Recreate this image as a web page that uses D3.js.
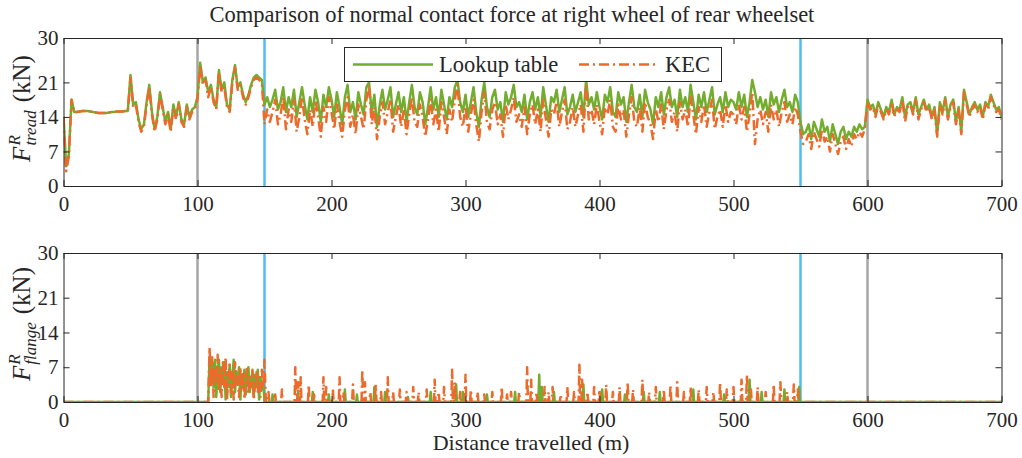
<!DOCTYPE html>
<html>
<head>
<meta charset="utf-8">
<script src="https://cdn.jsdelivr.net/npm/d3@7"></script>
<style>
  body { margin: 0; background: #fff; }
  text { font-family: "Liberation Serif", "Times New Roman", serif; fill: #262626; }
</style>
</head>
<body>
<svg id="chart" width="1022" height="458"></svg>
<script>
// tread force, sampled every 2 m from 0 to 700 m
const treadStep = 2;
const treadLookup = [
  14, 4, 6.5, 17.5, 15, 15, 15.1, 15.2, 15.2, 15.2, 15.1, 15, 14.9, 14.8, 14.8, 14.8, 14.8, 14.9, 15, 15, 15.1, 15.1, 15.1, 15.2, 15.2,
  22.5, 16.5, 17, 13.5, 11.5, 12.5, 17, 20.5, 15, 11.5, 14, 19, 16, 13, 15, 11.5, 16.5, 14, 17, 13.5, 12.5, 16.5, 14, 15.5, 16,
  18, 25, 21, 22, 19, 20.5, 17.5, 16, 23.5, 19.5, 21, 16.5, 15.5, 21.5, 24.5, 20, 21, 18.5, 17, 18.5, 20.5, 22, 22.5, 22, 21.5,
  16.5, 18, 16, 17.5, 19.5, 15.5, 17, 20, 15, 18, 16, 19.5, 14, 17, 20, 16.5, 13.5, 18, 15, 19.5, 17, 13, 18.5, 16, 20,
  17.5, 14, 19, 16, 12.5, 18, 20.5, 15, 17, 13.5, 19, 16.5, 14.5, 20, 21, 15, 18.5, 12, 16.5, 19.5, 15.5, 17.5, 20, 14, 16.5,
  19, 15, 18, 13, 17, 20.5, 16, 14.5, 19, 17, 12.5, 16, 20, 15.5, 18, 14, 19.5, 16.5, 13.5, 18, 16, 20, 21.5, 17, 15,
  18.5, 14, 17, 20, 15, 12, 17.5, 21, 16, 14, 18, 19.5, 15.5, 17, 13, 19, 16.5, 18, 20.5, 16, 17, 15, 18.5, 13.5, 17,
  19, 15.5, 18, 14, 20, 16.5, 13, 18, 17, 19.5, 15, 17.5, 20, 14.5, 16, 18.5, 15, 17, 19, 14, 21.5, 16.5, 18, 15.5, 19,
  16, 13.5, 18.5, 17, 20, 15, 14, 19, 16.5, 18, 13, 17, 20.5, 16, 15, 18.5, 14, 19.5, 17, 15.5, 12.5, 18, 16, 19, 14.5,
  18, 20, 16, 17.5, 14, 19.5, 16, 18, 15, 20.5, 17, 13.5, 18.5, 16, 19, 15, 17.5, 20, 14.5, 16.5, 18, 15, 19, 16, 17.5,
  17, 15.5, 19, 16, 18.5, 14, 17, 21.5, 19, 16, 18, 15.5, 17.5, 14, 19, 16.5, 18, 15, 17.5, 19.5, 16, 17, 15, 18.5, 17,
  13, 10.5, 11, 12.5, 9.5, 13, 11.5, 10, 13.5, 11, 12, 9, 12.5, 10.5, 8.5, 11, 12, 9.5, 11, 10, 12, 11, 12.5, 11.5, 12,
  17.5, 16, 16.5, 14.5, 17, 15.5, 14, 16, 15, 17.5, 14.5, 16, 15.5, 18, 14, 16.5, 17, 15, 18, 14.5, 16, 17.5, 15.5, 16.5, 14,
  16, 10.5, 17, 15, 18, 14, 16.5, 17.5, 13, 16, 11, 19.5, 17, 14.5, 16, 17, 15.5, 16.5, 14, 17, 16, 18.5, 17, 15.5, 16, 14
];
const treadKEC = [
  14, 3, 6, 17.5, 15, 15, 15.1, 15.2, 15.2, 15.2, 15.1, 15, 14.9, 14.8, 14.8, 14.8, 14.8, 14.9, 15, 15, 15.1, 15.1, 15.1, 15.2, 15.2,
  22, 16, 16.5, 13, 11, 12, 16.5, 20, 14.5, 11, 13.5, 18.5, 15.5, 12.5, 14.5, 11, 16, 13.5, 16.5, 13, 12, 16, 13.5, 15, 15.5,
  17.5, 24.5, 20.5, 21.5, 18, 20, 17, 15.5, 23, 19, 20, 16, 15, 21, 24, 19.5, 20.5, 18, 16.5, 18, 20, 21.5, 22, 21.5, 21,
  12.5, 15.5, 13, 15, 17.5, 12.5, 14.5, 18, 11.5, 15.5, 13, 17.5, 11, 14, 18, 13.5, 10.5, 15.5, 12, 17.5, 14, 10, 16, 13, 18,
  15, 11.5, 16.5, 13, 10, 15.5, 18, 12, 14.5, 10.5, 16.5, 14, 11.5, 17.5, 20.5, 12.5, 16, 9.5, 14, 17, 12.5, 15, 17.5, 11, 14,
  16.5, 12, 15.5, 10.5, 14.5, 18, 13, 12, 16.5, 14, 10, 13.5, 17.5, 12.5, 15.5, 11, 17, 14, 10.5, 15.5, 13, 17.5, 20.5, 14, 12,
  16, 11, 14.5, 17.5, 12.5, 9, 15, 19, 13, 11.5, 15.5, 17, 12.5, 14.5, 10, 16.5, 13.5, 15.5, 18, 13, 14.5, 12, 16, 10.5, 14.5,
  16.5, 12.5, 15.5, 11, 17.5, 13.5, 10, 15.5, 14.5, 17, 12, 15, 17.5, 11.5, 13, 16, 12, 14.5, 16.5, 11, 20.5, 13.5, 15.5, 12.5, 16.5,
  13, 10.5, 16, 14.5, 17.5, 12, 11, 16.5, 13.5, 15.5, 10, 14.5, 18, 13, 12, 16, 11, 17, 14, 12.5, 9.5, 15.5, 13, 16.5, 11.5,
  15.5, 17.5, 13, 15, 11, 17, 13.5, 15.5, 12, 18, 14.5, 10.5, 16, 13, 16.5, 12, 15, 17.5, 11.5, 14, 15.5, 12, 16.5, 13, 15,
  14.5, 12.5, 16.5, 13.5, 16, 11, 14.5, 19, 8.5, 13.5, 15.5, 12.5, 15, 11, 16.5, 13.5, 15.5, 12, 15, 17, 13, 14.5, 12.5, 16, 14.5,
  11, 8.5, 9, 10.5, 7.5, 11, 9.5, 8, 11.5, 9, 10, 7, 10.5, 8.5, 6.5, 9, 10, 7.5, 9.5, 8, 10.5, 9.5, 11, 10, 11.5,
  17, 15.5, 16, 14, 16.5, 15, 13.5, 15.5, 14.5, 17, 14, 15.5, 15, 17.5, 13, 16, 16.5, 14.5, 17.5, 13.5, 15.5, 17, 15, 16, 13.5,
  15.5, 10, 16.5, 14.5, 17.5, 13.5, 16, 17, 12.5, 15.5, 10.5, 19, 16.5, 14, 15.5, 16.5, 15, 16, 13.5, 16.5, 15.5, 18, 16.5, 15, 15.5, 13.5
];

// flange force: dense part every 1 m from 108 m to 151 m, then isolated spikes [m, kN]
const flangeDenseStart = 108;
const flangeLookupDense = [
  0, 9, 5, 8, 3, 8.5, 1, 6, 8.5, 2, 7, 4, 8, 0.5, 6, 3, 7.5, 1, 5, 8.5,
  2, 6, 4, 7, 0.5, 5.5, 3, 6.5, 1.5, 5, 7, 2, 4.5, 6, 1, 5.5, 3, 6.5, 0.5, 5, 2.5, 4, 0, 0
];
const flangeKECDense = [
  0, 11, 3, 9, 1, 7, 4, 9.5, 2, 6.5, 1, 8, 3, 9, 0.5, 5, 7.5, 2, 6, 0.5,
  8, 3.5, 5.5, 1, 7, 2.5, 6, 0.5, 4.5, 7, 1.5, 5, 3, 6.5, 0.5, 4, 6, 2, 5, 1, 6.5, 3, 8.5, 0
];
const flangeLookupSpikes = [
  [156, 1.5], [175, 2], [186, 2], [198, 1.5], [210, 2.5], [219, 1.5], [232, 3], [240, 2], [257, 1],
  [274, 2], [293, 3.5], [298, 2], [316, 1.5], [337, 2], [355, 5.5], [357, 3], [366, 2], [388, 3.5],
  [402, 2.5], [419, 1.5], [433, 2], [445, 2], [470, 2.5], [493, 1.5], [512, 4.5], [521, 2], [538, 2.5], [549, 3]
];
const flangeKECSpikes = [
  [153, 2], [158, 1.5], [163, 2.5], [173, 7], [175, 4], [177, 5], [183, 3.5], [187, 1.5], [194, 5], [196, 3],
  [201, 2.5], [206, 5], [209, 2], [216, 3.5], [223, 6.5], [225, 4], [229, 2], [233, 3.5], [237, 2], [242, 5],
  [246, 2], [251, 2.5], [256, 2], [261, 3], [265, 2], [271, 2.5], [277, 4.5], [280, 2], [284, 3], [290, 6.5],
  [292, 4], [296, 2], [300, 5.5], [304, 2.5], [309, 2], [314, 1.5], [320, 2], [327, 3], [331, 1.5], [334, 2],
  [340, 2], [346, 7], [349, 4.5], [353, 2], [359, 3], [362, 2], [365, 3], [371, 1.5], [376, 3], [381, 2],
  [385, 7.5], [387, 4.5], [391, 2], [396, 3], [400, 2.5], [405, 3.5], [410, 2], [415, 3], [421, 4], [425, 2.5],
  [432, 4.5], [437, 2], [442, 3], [448, 2.5], [453, 3.5], [458, 4], [463, 2], [468, 3], [474, 2.5], [480, 3],
  [485, 2], [490, 4], [495, 2.5], [500, 3], [506, 4.5], [510, 5.5], [513, 2.5], [518, 3], [524, 2], [530, 3.5],
  [535, 4], [540, 2], [545, 3.5], [548, 2.5]
];

const markersGray = [100, 600];
const markersBlue = [150, 550];
const xTicks = [0, 100, 200, 300, 400, 500, 600, 700];
const yTicks = [0, 7, 14, 21, 30];
const seriesNames = ['Lookup table', 'KEC'];

const green = '#72ad2e';
const orange = '#ec6a2b';
const axisColor = '#262626';
const dash = '10,4,2,4';

const svg = d3.select('#chart');
const x = d3.scaleLinear().domain([0, 700]).range([63.5, 1001.5]);

function treadSeries(vals) {
  return vals.map((v, i) => [i * treadStep, v]);
}
function flangeSeries(dense, spikes) {
  let pts = [[0, 0]];
  dense.forEach((v, i) => pts.push([flangeDenseStart + i, v]));
  spikes.forEach(([m, v]) => {
    pts.push([m - 0.6, 0], [m, v], [m + 0.6, 0]);
  });
  pts.push([700, 0]);
  return pts;
}

const panels = [
  { top: 38, bottom: 186, sub: 'tread',
    series: [treadSeries(treadLookup), treadSeries(treadKEC)] },
  { top: 253, bottom: 402, sub: 'flange',
    series: [flangeSeries(flangeLookupDense, flangeLookupSpikes), flangeSeries(flangeKECDense, flangeKECSpikes)] }
];

panels.forEach((p, pi) => {
  const y = d3.scaleLinear().domain([0, 30]).range([p.bottom, p.top]);
  const g = svg.append('g');

  g.append('clipPath').attr('id', 'clip' + pi)
    .append('rect').attr('x', x(0)).attr('y', p.top).attr('width', x(700) - x(0)).attr('height', p.bottom - p.top);

  markersGray.forEach(m => {
    g.append('line').attr('x1', x(m)).attr('x2', x(m)).attr('y1', p.top).attr('y2', p.bottom)
      .attr('stroke', '#a6a6a6').attr('stroke-width', 2.5);
  });
  markersBlue.forEach(m => {
    g.append('line').attr('x1', x(m)).attr('x2', x(m)).attr('y1', p.top).attr('y2', p.bottom)
      .attr('stroke', '#4dbeee').attr('stroke-width', 2.5);
  });

  const line = d3.line().x(d => x(d[0])).y(d => y(d[1]));
  const plot = g.append('g').attr('clip-path', `url(#clip${pi})`);
  plot.append('path').datum(p.series[0]).attr('d', line)
    .attr('fill', 'none').attr('stroke', green).attr('stroke-width', 2.5).attr('stroke-linejoin', 'round');
  plot.append('path').datum(p.series[1]).attr('d', line)
    .attr('fill', 'none').attr('stroke', orange).attr('stroke-width', 2.5).attr('stroke-linejoin', 'round')
    .attr('stroke-dasharray', dash);

  // axes, ticks pointing in like matlab
  const axes = [
    g.append('g').attr('transform', `translate(0,${p.bottom})`)
      .call(d3.axisBottom(x).tickValues(xTicks).tickSizeInner(-6).tickSizeOuter(0).tickPadding(10)),
    g.append('g').attr('transform', `translate(0,${p.top})`)
      .call(d3.axisTop(x).tickValues(xTicks).tickSizeInner(-6).tickSizeOuter(0).tickFormat('')),
    g.append('g').attr('transform', `translate(${x(0)},0)`)
      .call(d3.axisLeft(y).tickValues(yTicks).tickSizeInner(-6).tickSizeOuter(0).tickPadding(5)),
    g.append('g').attr('transform', `translate(${x(700)},0)`)
      .call(d3.axisRight(y).tickValues(yTicks).tickSizeInner(-6).tickSizeOuter(0).tickFormat(''))
  ];
  axes.forEach(a => {
    a.attr('color', axisColor).attr('font-family', null).attr('font-size', 21);
    a.selectAll('.domain').attr('stroke-width', 1);
    a.selectAll('.tick line').attr('stroke-width', 1);
  });

  // y label: F^R_sub (kN)
  const lg = svg.append('g').attr('transform', `translate(30,${(p.top + p.bottom) / 2 - 3}) rotate(-90)`);
  const probe = lg.append('text').attr('font-size', 17).attr('font-style', 'italic').text('R');
  const wR = probe.node().getComputedTextLength();
  probe.remove();
  const t = lg.append('text').attr('font-size', 25);
  t.append('tspan').attr('font-style', 'italic').text('F');
  t.append('tspan').attr('font-style', 'italic').attr('font-size', 17).attr('dx', 1).attr('dy', -10).text('R');
  t.append('tspan').attr('font-style', 'italic').attr('font-size', 17).attr('dx', -wR).attr('dy', 16).text(p.sub);
  t.append('tspan').attr('dx', 8).attr('dy', -6).text('(kN)');
  const bb = t.node().getBBox();
  t.attr('transform', `translate(${-bb.x - bb.width / 2},0)`);
});

// legend
const leg = svg.append('g');
leg.append('rect').attr('x', 344.5).attr('y', 47.5).attr('width', 377).attr('height', 34)
  .attr('fill', '#fff').attr('stroke', axisColor).attr('stroke-width', 1);
const legItems = [
  { name: seriesNames[0], color: green, dash: null, x0: 353, x1: 433, tx: 439 },
  { name: seriesNames[1], color: orange, dash: dash, x0: 579, x1: 658, tx: 665 }
];
legItems.forEach(d => {
  leg.append('line').attr('x1', d.x0).attr('x2', d.x1).attr('y1', 64.5).attr('y2', 64.5)
    .attr('stroke', d.color).attr('stroke-width', 2.5).attr('stroke-dasharray', d.dash);
  leg.append('text').attr('x', d.tx).attr('y', 71.5).attr('font-size', 22.5).text(d.name);
});

// title and x label
svg.append('text').attr('x', 512).attr('y', 22).attr('text-anchor', 'middle').attr('font-size', 22.5)
  .text('Comparison of normal contact force at right wheel of rear wheelset');
svg.append('text').attr('x', 531).attr('y', 450).attr('text-anchor', 'middle').attr('font-size', 22)
  .text('Distance travelled (m)');
</script>
</body>
</html>
